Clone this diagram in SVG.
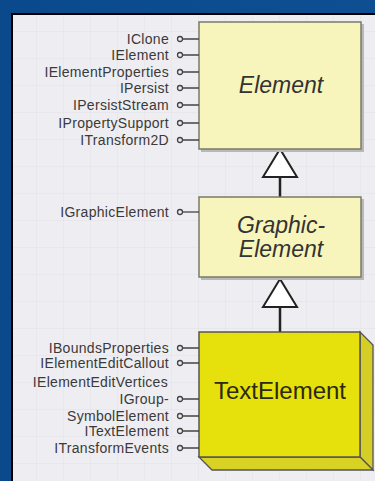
<svg xmlns="http://www.w3.org/2000/svg" width="375" height="481" viewBox="0 0 375 481">
<defs>
<linearGradient id="bg" x1="0" y1="0" x2="1" y2="0">
<stop offset="0" stop-color="#0a4a8c"/><stop offset="1" stop-color="#0d4f92"/>
</linearGradient>
<pattern id="grid" x="10" y="5" width="27" height="27" patternUnits="userSpaceOnUse">
<path d="M27 0V27M0 27H27" fill="none" stroke="#e3e2e7" stroke-width="1"/>
</pattern>
</defs>
<style>
.lbl{font-family:"Liberation Sans",Arial,sans-serif;font-size:14px;fill:#3a3a3a;text-anchor:end;letter-spacing:0.3px}
.pin{fill:none;stroke:#444;stroke-width:1.3}
.box{fill:#f8f5bc;stroke:#7a7a6a;stroke-width:1.5}
.sh{fill:#b8b8b8}
.ttl{font-family:"Liberation Sans",Arial,sans-serif;font-style:italic;font-size:23px;fill:#333;text-anchor:middle}
.conn{stroke:#222;stroke-width:2.5;fill:none}
.tri{fill:#fff;stroke:#222;stroke-width:2}
</style>
<rect width="375" height="481" fill="url(#bg)"/>
<rect x="12" y="14" width="370" height="480" fill="#eeedf1"/>
<rect x="12" y="14" width="370" height="480" fill="url(#grid)"/>
<path d="M12 481V14H375" fill="none" stroke="#000" stroke-width="2"/>

<g id="connectors">
<path class="conn" d="M280 197V177"/>
<path class="tri" d="M280 149L263 177H297Z"/>
<path class="conn" d="M280 332V307"/>
<path class="tri" d="M280 279L263 307H297Z"/>
</g>

<g id="Element">
<rect class="sh" x="201" y="24" width="163" height="128"/>
<rect class="box" x="199" y="22" width="162" height="127"/>
<text class="ttl" x="281" y="93">Element</text>
<text class="lbl" x="169" y="44">IClone</text>
<text class="lbl" x="169" y="60">IElement</text>
<text class="lbl" x="169" y="77">IElementProperties</text>
<text class="lbl" x="169" y="93">IPersist</text>
<text class="lbl" x="169" y="110">IPersistStream</text>
<text class="lbl" x="169" y="128">IPropertySupport</text>
<text class="lbl" x="169" y="145">ITransform2D</text>
<path class="pin" d="M183 39H199M183 55H199M183 72H199M183 88H199M183 105H199M183 123H199M183 140H199"/>
<g class="pin"><circle cx="180" cy="39" r="2.5"/><circle cx="180" cy="55" r="2.5"/><circle cx="180" cy="72" r="2.5"/><circle cx="180" cy="88" r="2.5"/><circle cx="180" cy="105" r="2.5"/><circle cx="180" cy="123" r="2.5"/><circle cx="180" cy="140" r="2.5"/></g>
</g>

<g id="GraphicElement">
<rect class="sh" x="201" y="199" width="163" height="81"/>
<rect class="box" x="199" y="197" width="162" height="80"/>
<text class="ttl" x="281" y="233">Graphic-</text>
<text class="ttl" x="281" y="257">Element</text>
<text class="lbl" x="169" y="217">IGraphicElement</text>
<path class="pin" d="M183 212H199"/>
<circle class="pin" cx="180" cy="212" r="2.5"/>
</g>

<g id="TextElement">
<path d="M360 332L373 345V470L360 457Z" fill="#d4ce26" stroke="#555" stroke-width="1.3"/>
<path d="M199 457L212 470H373L360 457Z" fill="#d8d224" stroke="#555" stroke-width="1.3"/>
<rect x="199" y="332" width="161" height="125" fill="#e6e00c" stroke="#555" stroke-width="1.5"/>
<text x="280" y="399" font-family="Liberation Sans,Arial,sans-serif" font-size="24" fill="#2a2a10" text-anchor="middle">TextElement</text>
<text class="lbl" x="169" y="353">IBoundsProperties</text>
<text class="lbl" x="169" y="368">IElementEditCallout</text>
<text class="lbl" x="168" y="387">IElementEditVertices</text>
<text class="lbl" x="169" y="404">IGroup-</text>
<text class="lbl" x="169" y="421">SymbolElement</text>
<text class="lbl" x="169" y="436">ITextElement</text>
<text class="lbl" x="169" y="453">ITransformEvents</text>
<path class="pin" d="M183 348H199M183 363H199M183 399H199M183 416H199M183 431H199M183 448H199"/>
<g class="pin"><circle cx="180" cy="348" r="2.5"/><circle cx="180" cy="363" r="2.5"/><circle cx="180" cy="399" r="2.5"/><circle cx="180" cy="416" r="2.5"/><circle cx="180" cy="431" r="2.5"/><circle cx="180" cy="448" r="2.5"/></g>
</g>
</svg>
